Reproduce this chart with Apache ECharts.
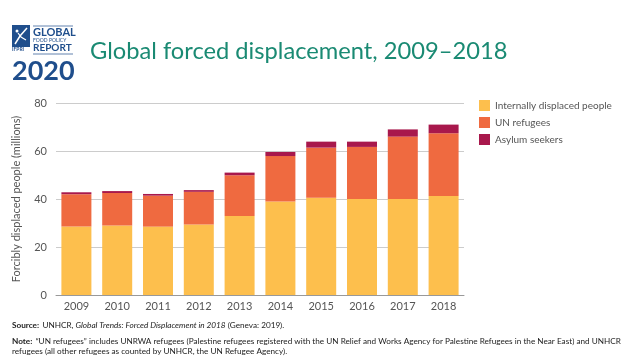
<!DOCTYPE html>
<html><head><meta charset="utf-8">
<script src="https://cdn.jsdelivr.net/npm/echarts@6/dist/echarts.min.js"></script>
<style>html,body{margin:0;padding:0;background:#fff;}#c{width:639px;height:359px;}</style>
</head><body><div id="c"></div>
<script>
const years = ['2009','2010','2011','2012','2013','2014','2015','2016','2017','2018'];
const idp = [28.5, 29.0, 28.5, 29.4, 32.9, 39.0, 40.5, 40.0, 40.0, 41.3];
const unRefugees = [13.5, 13.5, 12.9, 13.6, 17.0, 18.9, 20.9, 21.7, 26.0, 26.1];
const asylum = [0.8, 0.8, 0.7, 0.7, 1.1, 1.7, 2.5, 2.2, 3.0, 3.6];
const yTicks = [0, 20, 40, 60, 80];

const chart = echarts.init(document.getElementById('c'), null, {renderer:'canvas'});
const txt = '#555';
const blue = '#1f4e8c';
const foot = {fontSize:8.2, fill:'#222', fontFamily:'Lato', lineHeight:8.5};
chart.setOption({
  animation:false,
  backgroundColor:'#fff',
  textStyle:{fontFamily:'Lato'},
  grid:{left:56, right:175, top:103, bottom:64},
  legend:{
    orient:'vertical', left:479, top:100, padding:0, itemWidth:11, itemHeight:11, itemGap:6,
    icon:'rect',
    textStyle:{color:txt, fontSize:10, fontFamily:'Lato'},
    data:['Internally displaced people','UN refugees','Asylum seekers']
  },
  xAxis:{
    type:'category', data:years,
    axisLine:{lineStyle:{color:'#999'}},
    axisTick:{show:false},
    axisLabel:{color:txt, fontSize:11, margin:6}
  },
  yAxis:{
    type:'value', min:yTicks[0], max:yTicks[yTicks.length-1], interval:20,
    name:'Forcibly displaced people (millions)', nameLocation:'middle', nameGap:34,
    nameTextStyle:{color:txt, fontSize:11},
    axisLine:{show:false}, axisTick:{show:false},
    axisLabel:{color:txt, fontSize:11, margin:9},
    splitLine:{lineStyle:{color:'#ccc'}}
  },
  series:[
    {name:'Internally displaced people', type:'bar', stack:'s', data:idp, barWidth:30, itemStyle:{color:'#fdbf4d'}},
    {name:'UN refugees', type:'bar', stack:'s', data:unRefugees, barWidth:30, itemStyle:{color:'#ef6a40'}},
    {name:'Asylum seekers', type:'bar', stack:'s', data:asylum, barWidth:30, itemStyle:{color:'#a8184c'}}
  ],
  graphic:[
    {type:'text', left:90, top:39, style:{text:'Global forced displacement, 2009–2018', fill:'#1a8a73', font:'23.7px Lato'}},
    {type:'rect', shape:{x:12, y:25, width:18, height:22}, style:{fill:blue}},
    {type:'polyline', shape:{points:[[15,44],[20,36],[27,28]]}, style:{stroke:'#fff', lineWidth:1.5, fill:null}},
    {type:'polyline', shape:{points:[[18,33],[21,37],[26,40]]}, style:{stroke:'#fff', lineWidth:1.2, fill:null}},
    {type:'circle', shape:{cx:17, cy:31, r:1.5}, style:{fill:'#fff'}},
    {type:'text', left:12, top:47, style:{text:'IFPRI', fill:blue, font:'bold 5px Lato'}},
    {type:'line', shape:{x1:33, y1:26, x2:73, y2:26}, style:{stroke:blue, lineWidth:0.7}},
    {type:'text', left:33, top:27, style:{text:'GLOBAL', fill:blue, font:'bold 11px Lato'}},
    {type:'text', left:33, top:38, style:{text:'FOOD POLICY', fill:blue, font:'5px Lato'}},
    {type:'text', left:33, top:43, style:{text:'REPORT', fill:blue, font:'bold 10px Lato'}},
    {type:'line', shape:{x1:33, y1:54, x2:73, y2:54}, style:{stroke:blue, lineWidth:0.7}},
    {type:'text', left:12, top:58, style:{text:'2020', fill:blue, font:'bold 27px Lato'}},
    {type:'text', left:12, top:319, style:{rich:{b:Object.assign({}, foot, {fontWeight:'bold'}), n:foot, i:Object.assign({}, foot, {fontStyle:'italic'})}, text:'{b|Source:} {n|UNHCR, }{i|Global Trends: Forced Displacement in 2018}{n| (Geneva: 2019).}'}},
    {type:'text', left:12, top:335, style:{rich:{b:Object.assign({}, foot, {fontWeight:'bold'}), n:foot}, text:'{b|Note:} {n|“UN refugees” includes UNRWA refugees (Palestine refugees registered with the UN Relief and Works Agency for Palestine Refugees in the Near East) and UNHCR}\n{n|refugees (all other refugees as counted by UNHCR, the UN Refugee Agency).}'}}
  ]
});
</script></body></html>
